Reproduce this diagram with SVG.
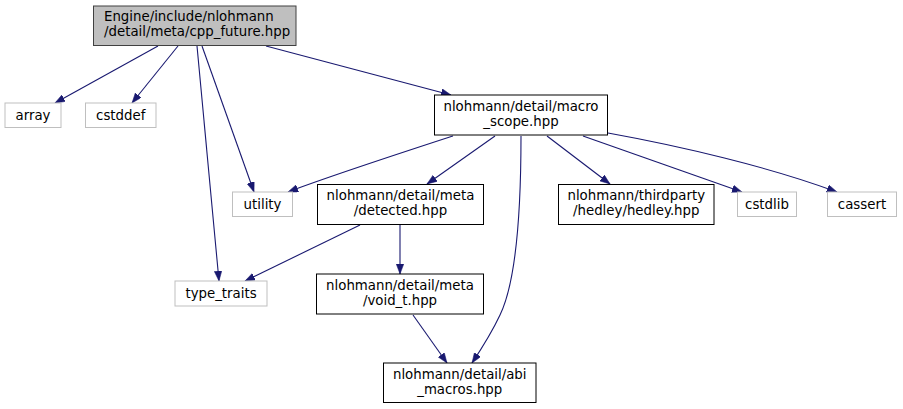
<svg xmlns="http://www.w3.org/2000/svg" width="903" height="409" viewBox="0 0 903 409">
<style>
text{font-family:"DejaVu Sans","Liberation Sans",sans-serif;font-size:13.33px;fill:#000}
.c{text-anchor:middle}
.root rect{fill:#bfbfbf;stroke:#404040;stroke-width:1}
.n rect{fill:#fff;stroke:#000;stroke-width:1}
.g rect{fill:#fff;stroke:#bfbfbf;stroke-width:1}
#edges path{fill:none;stroke:#191970;stroke-width:1.1;marker-end:url(#ah)}
</style>
<defs>
<marker id="ah" markerUnits="userSpaceOnUse" markerWidth="11" markerHeight="8" refX="10" refY="3.75" orient="auto">
<path d="M0,0 L10,3.75 L0,7.5 z" fill="#191970" stroke="#191970" stroke-width="0.5"/>
</marker>
</defs>
<rect width="903" height="409" fill="#fff"/>
<g id="edges">
<path d="M158,46 L55,103"/>
<path d="M178,46 L132,103"/>
<path d="M197,46 L219,281"/>
<path d="M202,46 L254,192"/>
<path d="M266,46 L451,95"/>
<path d="M453,136 C410,150 330,176 288,192"/>
<path d="M495,136 L427,184"/>
<path d="M521,136 C521,210 517,280 500,315 C492,332 482,348 472,363"/>
<path d="M547,136 L610,184"/>
<path d="M583,136 L742,192"/>
<path d="M608,133 C680,146 770,167 837,192"/>
<path d="M360,225 L245,281"/>
<path d="M400,225 L400,274"/>
<path d="M413,315 L447,363"/>
</g>
<g id="root" class="root"><rect x="93.5" y="6" width="202.5" height="39.5"/><text x="104" y="21">Engine/include/nlohmann</text><text x="104" y="36">/detail/meta/cpp_future.hpp</text></g>
<g id="array" class="g"><rect x="5" y="103" width="56" height="24.5"/><text class="c" x="33" y="119.5">array</text></g>
<g id="cstddef" class="g"><rect x="85.5" y="103" width="70.5" height="24.5"/><text class="c" x="120.75" y="119.5">cstddef</text></g>
<g id="macro_scope" class="n"><rect x="434.5" y="95" width="173" height="40"/><text class="c" x="521" y="110.5">nlohmann/detail/macro</text><text class="c" x="521" y="125.5">_scope.hpp</text></g>
<g id="utility" class="g"><rect x="232.5" y="192" width="60" height="24.5"/><text class="c" x="262.5" y="208.5">utility</text></g>
<g id="detected" class="n"><rect x="317.5" y="184.5" width="166" height="40"/><text class="c" x="400.5" y="200">nlohmann/detail/meta</text><text class="c" x="400.5" y="214.5">/detected.hpp</text></g>
<g id="hedley" class="n"><rect x="558.5" y="184.5" width="155.5" height="40"/><text class="c" x="636.25" y="200">nlohmann/thirdparty</text><text class="c" x="636.25" y="214.5">/hedley/hedley.hpp</text></g>
<g id="cstdlib" class="g"><rect x="737.5" y="192" width="59" height="24.5"/><text class="c" x="767" y="208.5">cstdlib</text></g>
<g id="cassert" class="g"><rect x="827.5" y="192" width="69" height="24.5"/><text class="c" x="862" y="208.5">cassert</text></g>
<g id="type_traits" class="g"><rect x="175" y="281" width="92" height="25"/><text class="c" x="221" y="297.5">type_traits</text></g>
<g id="void_t" class="n"><rect x="316.5" y="274" width="167" height="40"/><text class="c" x="400" y="289.5">nlohmann/detail/meta</text><text class="c" x="400" y="304.5">/void_t.hpp</text></g>
<g id="abi_macros" class="n"><rect x="383.5" y="363" width="152.5" height="39.5"/><text class="c" x="459.75" y="378.5">nlohmann/detail/abi</text><text class="c" x="459.75" y="393.5">_macros.hpp</text></g>
</svg>
